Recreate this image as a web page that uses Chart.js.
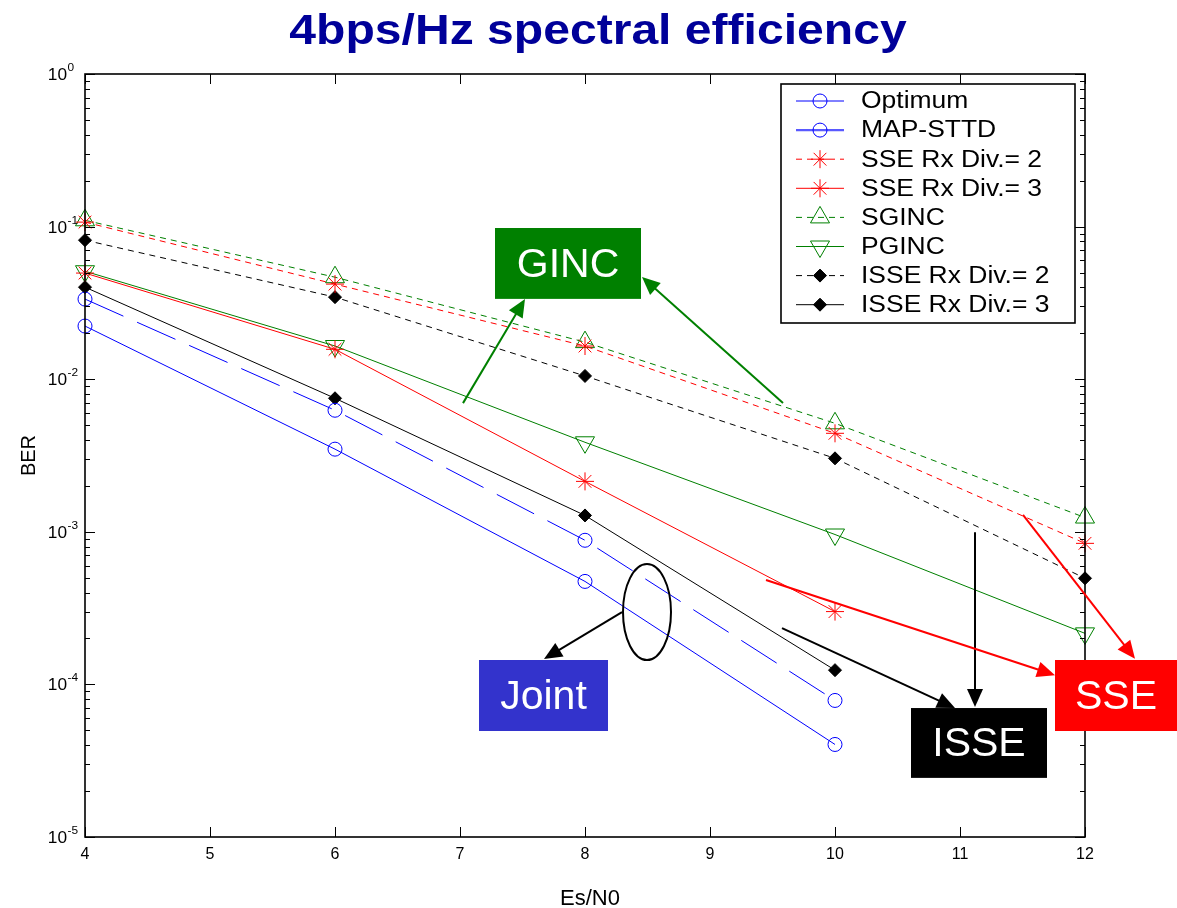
<!DOCTYPE html>
<html>
<head>
<meta charset="utf-8">
<script src="https://cdn.jsdelivr.net/npm/chart.js@4.4.1/dist/chart.umd.min.js"></script>
<style>
  html, body { margin: 0; padding: 0; background: #fff; }
  #wrap { width: 1177px; height: 908px; position: relative; }
</style>
</head>
<body>
<div id="wrap"><canvas id="ber"></canvas></div>
<script>
// ---- data ----
const esN0 = [4, 6, 8, 10, 12];

const optimum   = [0.0223, 0.00348, 0.000473, 0.0000404];
const mapSttd   = [0.0335, 0.00626, 0.00088, 0.0000785];
const sseDiv2   = [0.107, 0.042, 0.0165, 0.00442, 0.00084];
const sseDiv3   = [0.0496, 0.0157, 0.00214, 0.000300];
const sginc     = [0.110, 0.0466, 0.0175, 0.00514, 0.00124];
const pginc     = [0.051, 0.0165, 0.00386, 0.00096, 0.000216];
const isseDiv2  = [0.0815, 0.0345, 0.0105, 0.00303, 0.000496];
const isseDiv3  = [0.0401, 0.0075, 0.00128, 0.000124];

const seriesNames = ['Optimum', 'MAP-STTD', 'SSE Rx Div.= 2', 'SSE Rx Div.= 3',
                     'SGINC', 'PGINC', 'ISSE Rx Div.= 2', 'ISSE Rx Div.= 3'];

const xTicks = [4, 5, 6, 7, 8, 9, 10, 11, 12];
const yDecades = [0, -1, -2, -3, -4, -5];

// annotation anchors, in data units (Es/N0, BER)
const callouts = [
  { text: 'GINC',  fill: '#008000', x1: 7.28,  x2: 8.448, yTop: 0.0979,   yBot: 0.0336 },
  { text: 'Joint', fill: '#3333cc', x1: 7.152, x2: 8.184, yTop: 1.445e-4, yBot: 4.95e-5 },
  { text: 'ISSE',  fill: '#000000', x1: 10.608, x2: 11.696, yTop: 7.0e-5, yBot: 2.44e-5 },
  { text: 'SSE',   fill: '#ff0000', x1: 11.76, x2: 12.736, yTop: 1.445e-4, yBot: 4.95e-5 },
];
const arrows = [
  { color: '#008000', from: [7.024, 0.00697],  to: [7.52, 0.0336] },
  { color: '#008000', from: [9.584, 0.00698],  to: [8.456, 0.0468] },
  { color: '#000000', from: [8.296, 2.98e-4],  to: [7.672, 1.466e-4] },
  { color: '#000000', from: [9.576, 2.34e-4],  to: [10.96, 7.0e-5] },
  { color: '#000000', from: [11.12, 9.95e-4],  to: [11.12, 7.1e-5] },
  { color: '#ff0000', from: [9.448, 4.83e-4],  to: [11.76, 1.15e-4] },
  { color: '#ff0000', from: [11.504, 1.29e-3], to: [12.4, 1.47e-4] },
];
const ellipseAt = [8.496, 2.98e-4];

// ---- styling ----
const FONT = '"Liberation Sans", Arial, sans-serif';
const BLUE = '#0000ff', RED = '#ff0000', GREEN = '#008000', BLACK = '#000000';
const SHORT_DASH = [6, 5];
const LONG_DASH = [42, 15];

function pts(values) {
  return values.map((v, i) => ({ x: esN0[i], y: v }));
}

function makeSet(label, values, color, opts) {
  return Object.assign({
    label,
    data: pts(values),
    borderColor: color,
    backgroundColor: 'transparent',
    pointBorderColor: color,
    pointBackgroundColor: 'transparent',
    borderWidth: 1,
    pointBorderWidth: 1,
    pointRadius: 7,
    pointStyle: 'circle',
    borderDash: [],
    tension: 0,
    clip: false,
  }, opts);
}

const datasets = [
  makeSet(seriesNames[0], optimum, BLUE, {}),
  makeSet(seriesNames[1], mapSttd, BLUE, { borderDash: LONG_DASH }),
  makeSet(seriesNames[2], sseDiv2, RED, { borderDash: SHORT_DASH, pointStyle: 'star', pointRadius: 9 }),
  makeSet(seriesNames[3], sseDiv3, RED, { pointStyle: 'star', pointRadius: 9 }),
  makeSet(seriesNames[4], sginc, GREEN, { borderDash: SHORT_DASH, pointStyle: 'triangle', pointRadius: 11 }),
  makeSet(seriesNames[5], pginc, GREEN, { pointStyle: 'triangle', pointRadius: 11, pointRotation: 180 }),
  makeSet(seriesNames[6], isseDiv2, BLACK, { borderDash: SHORT_DASH, pointStyle: 'rectRot', pointRadius: 6.5, pointBackgroundColor: BLACK }),
  makeSet(seriesNames[7], isseDiv3, BLACK, { pointStyle: 'rectRot', pointRadius: 6.5, pointBackgroundColor: BLACK }),
];

// ---- helpers ----
function arrowHead(ctx, x0, y0, x1, y1, color) {
  const ang = Math.atan2(y1 - y0, x1 - x0);
  const len = 18, half = 8;
  ctx.fillStyle = color;
  ctx.beginPath();
  ctx.moveTo(x1, y1);
  ctx.lineTo(x1 - len * Math.cos(ang) + half * Math.sin(ang), y1 - len * Math.sin(ang) - half * Math.cos(ang));
  ctx.lineTo(x1 - len * Math.cos(ang) - half * Math.sin(ang), y1 - len * Math.sin(ang) + half * Math.cos(ang));
  ctx.closePath();
  ctx.fill();
}

// text squeezed/stretched horizontally like the original figure
function wideText(ctx, text, x, y, sx) {
  ctx.save();
  ctx.translate(x, y);
  ctx.scale(sx, 1);
  ctx.fillText(text, 0, 0);
  ctx.restore();
}

// axes frame, ticks and labels in MATLAB style
const matlabAxes = {
  id: 'matlabAxes',
  beforeDraw(chart) {
    const { ctx } = chart;
    ctx.save();
    ctx.fillStyle = '#fff';
    ctx.fillRect(0, 0, chart.width, chart.height);

    // title
    ctx.fillStyle = '#000099';
    ctx.font = 'bold 42px ' + FONT;
    ctx.textAlign = 'center';
    ctx.textBaseline = 'alphabetic';
    wideText(ctx, '4bps/Hz spectral efficiency', 598, 44, 1.145);
    ctx.restore();
  },
  afterDatasetsDraw(chart) {
    const { ctx, chartArea: a, scales } = chart;
    const xs = scales.x, ys = scales.y;
    ctx.save();
    ctx.strokeStyle = '#000';
    ctx.lineWidth = 1;
    ctx.setLineDash([]);

    // x ticks (bottom and top)
    ctx.beginPath();
    xTicks.forEach(t => {
      const px = Math.round(xs.getPixelForValue(t)) + 0.5;
      ctx.moveTo(px, a.bottom); ctx.lineTo(px, a.bottom - 10);
      ctx.moveTo(px, a.top); ctx.lineTo(px, a.top + 10);
    });
    // y ticks: decades + minor
    yDecades.forEach(d => {
      const py = Math.round(ys.getPixelForValue(Math.pow(10, d))) + 0.5;
      ctx.moveTo(a.left, py); ctx.lineTo(a.left + 10, py);
      ctx.moveTo(a.right, py); ctx.lineTo(a.right - 10, py);
      if (d < 0) {
        for (let m = 2; m <= 9; m++) {
          const my = Math.round(ys.getPixelForValue(m * Math.pow(10, d))) + 0.5;
          ctx.moveTo(a.left, my); ctx.lineTo(a.left + 5, my);
          ctx.moveTo(a.right, my); ctx.lineTo(a.right - 5, my);
        }
      }
    });
    ctx.stroke();

    // frame
    ctx.lineWidth = 1.6;
    ctx.strokeRect(a.left, a.top, a.right - a.left, a.bottom - a.top);

    // tick labels
    ctx.fillStyle = '#000';
    ctx.font = '16px ' + FONT;
    ctx.textAlign = 'center';
    ctx.textBaseline = 'alphabetic';
    xTicks.forEach(t => ctx.fillText(String(t), xs.getPixelForValue(t), a.bottom + 22));

    yDecades.forEach(d => {
      const py = ys.getPixelForValue(Math.pow(10, d));
      ctx.font = '16px ' + FONT;
      ctx.textAlign = 'right';
      ctx.textBaseline = 'alphabetic';
      wideText(ctx, '10', 67, py + 6, 1.08);
      ctx.font = '11px ' + FONT;
      ctx.textAlign = 'left';
      wideText(ctx, String(d), 67.5, py - 3, 1.08);
    });

    // axis labels
    ctx.font = '22px ' + FONT;
    ctx.textAlign = 'center';
    ctx.textBaseline = 'alphabetic';
    ctx.fillText('Es/N0', 590, 905);
    ctx.font = '20px ' + FONT;
    ctx.translate(35, (a.top + a.bottom) / 2);
    ctx.rotate(-Math.PI / 2);
    ctx.fillText('BER', 0, 0);
    ctx.restore();
  },
  afterDraw(chart) {
    const { ctx, scales } = chart;
    const X = v => scales.x.getPixelForValue(v);
    const Y = v => scales.y.getPixelForValue(v);
    ctx.save();

    // legend
    const lx = 781, ly = 84, lw = 294, lh = 239;
    ctx.fillStyle = '#fff';
    ctx.fillRect(lx, ly, lw, lh);
    ctx.strokeStyle = '#000';
    ctx.lineWidth = 1.6;
    ctx.setLineDash([]);
    ctx.strokeRect(lx, ly, lw, lh);
    chart.data.datasets.forEach((ds, i) => {
      const cy = 101 + i * 29.1;
      const sampleDash = ds.borderDash === SHORT_DASH;
      ctx.strokeStyle = ds.borderColor;
      ctx.lineWidth = i === 1 ? 2.2 : 1;
      ctx.globalAlpha = i === 1 ? 0.65 : 1;
      ctx.setLineDash(sampleDash ? SHORT_DASH : []);
      ctx.beginPath();
      ctx.moveTo(796, cy); ctx.lineTo(844, cy);
      ctx.stroke();
      ctx.globalAlpha = 1;
      ctx.setLineDash([]);
      ctx.lineWidth = 1;
      ctx.strokeStyle = ds.pointBorderColor;
      ctx.fillStyle = ds.pointBackgroundColor;
      Chart.helpers.drawPoint(ctx, {
        pointStyle: ds.pointStyle,
        radius: ds.pointRadius,
        rotation: ds.pointRotation || 0,
        borderWidth: 1,
      }, 820, cy);
      ctx.fillStyle = '#000';
      ctx.font = '23px ' + FONT;
      ctx.textAlign = 'left';
      ctx.textBaseline = 'middle';
      wideText(ctx, ds.label, 861, cy + 1, 1.15);
    });

    // arrows
    ctx.lineWidth = 2;
    arrows.forEach(ar => {
      const x0 = X(ar.from[0]), y0 = Y(ar.from[1]);
      const x1 = X(ar.to[0]), y1 = Y(ar.to[1]);
      const ang = Math.atan2(y1 - y0, x1 - x0);
      ctx.strokeStyle = ar.color;
      ctx.beginPath();
      ctx.moveTo(x0, y0);
      ctx.lineTo(x1 - 10 * Math.cos(ang), y1 - 10 * Math.sin(ang));
      ctx.stroke();
      arrowHead(ctx, x0, y0, x1, y1, ar.color);
    });

    // ellipse round the joint curves
    ctx.strokeStyle = '#000';
    ctx.lineWidth = 2;
    ctx.beginPath();
    ctx.ellipse(X(ellipseAt[0]), Y(ellipseAt[1]), 24, 48, 0, 0, Math.PI * 2);
    ctx.stroke();

    // label boxes
    callouts.forEach(c => {
      const x1 = X(c.x1), x2 = X(c.x2), y1 = Y(c.yTop), y2 = Y(c.yBot);
      ctx.fillStyle = c.fill;
      ctx.fillRect(x1, y1, x2 - x1, y2 - y1);
      ctx.fillStyle = '#fff';
      ctx.font = '41px ' + FONT;
      ctx.textAlign = 'center';
      ctx.textBaseline = 'middle';
      ctx.fillText(c.text, (x1 + x2) / 2, (y1 + y2) / 2 + 2);
    });
    ctx.restore();
  },
};

new Chart(document.getElementById('ber'), {
  type: 'line',
  data: { datasets },
  plugins: [matlabAxes],
  options: {
    responsive: true,
    maintainAspectRatio: false,
    animation: false,
    events: [],
    layout: { padding: { left: 85, top: 74, right: 92, bottom: 71 } },
    plugins: { legend: { display: false }, tooltip: { enabled: false }, title: { display: false } },
    scales: {
      x: { type: 'linear', min: 4, max: 12, display: false },
      y: { type: 'logarithmic', min: 1e-5, max: 1, display: false },
    },
  },
});
</script>
</body>
</html>
